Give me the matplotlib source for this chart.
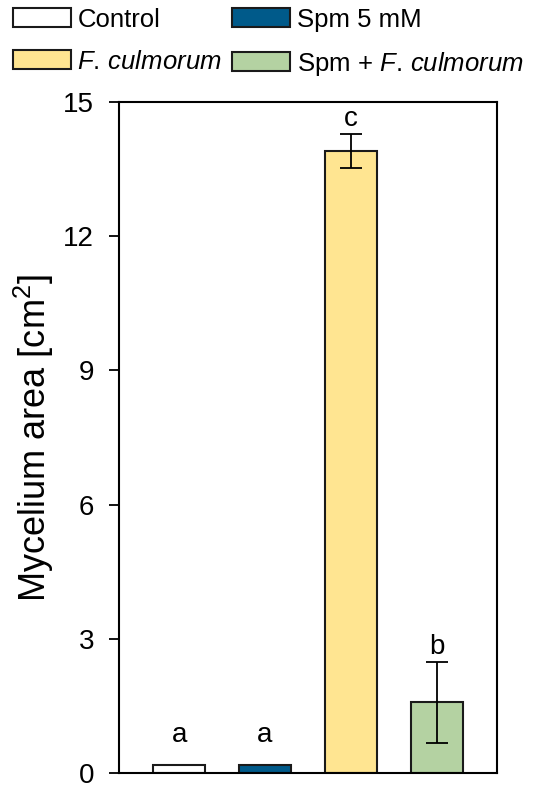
import matplotlib.pyplot as plt
from matplotlib.patches import Patch

plt.rcParams["font.family"] = ["Liberation Sans", "DejaVu Sans"]
plt.rcParams["mathtext.fontset"] = "custom"
plt.rcParams["mathtext.rm"] = "Liberation Sans"
plt.rcParams["mathtext.it"] = "Liberation Sans:italic"

# Dados
grupos = ["Control", "Spm 5 mM", "F. culmorum", "Spm + F. culmorum"]
rotulos_legenda = ["Control", "Spm 5 mM", "$\\mathit{F.}\\,\\mathit{culmorum}$",
                   "Spm + $\\mathit{F.}\\,\\mathit{culmorum}$"]
valores = [0.18, 0.18, 13.9, 1.58]
erros = [0.0, 0.0, 0.38, 0.9]
letras = ["a", "a", "c", "b"]
cores = ["#FFFFFF", "#005A8A", "#FFE591", "#B4D2A2"]

fig = plt.figure(figsize=(5.5, 7.9), dpi=100)
ax = fig.add_axes([0.2164, 0.0215, 0.6872, 0.8494])

x = list(range(len(grupos)))
ax.bar(x, valores, width=0.6, color=cores, edgecolor="#1a1a1a", linewidth=1.5, zorder=2)
for xi, v, e in zip(x, valores, erros):
    if e > 0:
        ax.errorbar(xi, v, yerr=e, fmt="none", ecolor="black", elinewidth=1.3,
                    capsize=8, capthick=1.3, zorder=3)

# Letras de significância acima das barras
for xi, v, e, l in zip(x, valores, erros, letras):
    desloc = e + 0.05 if e > 0 else 0.38
    ax.text(xi, v + desloc, l, ha="center", va="bottom", fontsize=20)

ax.set_xlim(-0.7, 3.7)
ax.set_ylim(0, 15)
ax.set_yticks([0, 3, 6, 9, 12, 15])
ax.set_xticks([])
ax.tick_params(axis="y", labelsize=20, length=7, width=1.3, pad=11)
for s in ax.spines.values():
    s.set_linewidth(1.5)
ax.set_ylabel("Mycelium area [cm$^2$]", fontsize=26, labelpad=5)

# Ordem da legenda preenchida por linhas
ordem = [0, 2, 1, 3]
handles = [Patch(facecolor=cores[i], edgecolor="#1a1a1a", linewidth=1.5) for i in ordem]
labels = [rotulos_legenda[i] for i in ordem]
fig.legend(handles, labels, ncol=2, loc="upper left", bbox_to_anchor=(-0.004, 1.010),
           frameon=False, fontsize=18.5, handlelength=2.25, handleheight=0.8,
           handletextpad=0.25, columnspacing=0.4, labelspacing=0.7, borderaxespad=0.2)

fig.savefig("out.png", dpi=100)
plt.close(fig)
